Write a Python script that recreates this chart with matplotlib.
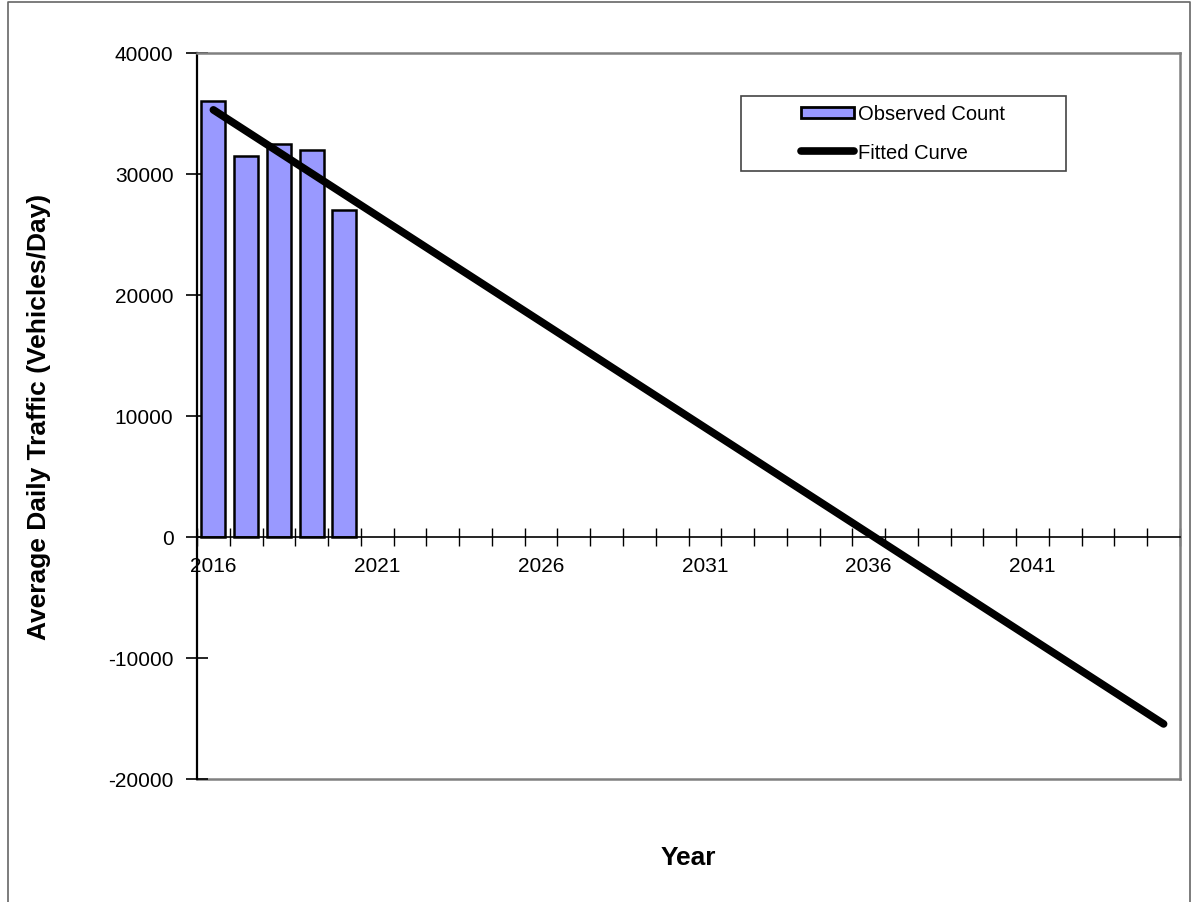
import numpy as np
import matplotlib.pyplot as plt
from matplotlib.patches import Rectangle
from matplotlib.lines import Line2D

plt.rcParams['font.family'] = ['Liberation Sans', 'DejaVu Sans']

# data
years = list(range(2016, 2046))
obs_years = [2016, 2017, 2018, 2019, 2020]
observed = [36000, 31500, 32500, 32000, 27000]
fitted = [35300, 33550, 31800, 30050, 28300, 26550, 24800, 23050, 21300, 19550,
          17800, 16050, 14300, 12550, 10800, 9050, 7300, 5550, 3800, 2050,
          300, -1450, -3200, -4950, -6700, -8450, -10200, -11950, -13700, -15450]
label_years = [2016, 2021, 2026, 2031, 2036, 2041]
y_ticks = [-20000, -10000, 0, 10000, 20000, 30000, 40000]

W, H = 1199, 903
fig = plt.figure(figsize=(W / 100, H / 100), dpi=100)

# plot area in pixels: x 197..1180, y 54..780
ax = fig.add_axes([197 / W, 1 - 780 / H, (1180 - 197) / W, (780 - 54) / H])

xpos = np.arange(len(years))
obs_pos = [years.index(y) for y in obs_years]

ax.bar(obs_pos, observed, width=0.73, color='#9999FF', edgecolor='black',
       linewidth=1.8, zorder=2, label='Observed Count')
ax.plot(xpos, fitted, color='black', linewidth=5.5, solid_capstyle='round',
        zorder=3, label='Fitted Curve')

ax.set_xlim(-0.5, len(years) - 0.5)
ax.set_ylim(-20000, 40000)

# spines
ax.spines['bottom'].set_position(('data', 0))
ax.spines['bottom'].set_linewidth(1.2)
ax.spines['left'].set_linewidth(1.6)
for s in ['top', 'right']:
    ax.spines[s].set_color('#808080')
    ax.spines[s].set_linewidth(1.8)
ax.axhline(-20000, color='#808080', linewidth=1.8, clip_on=False, zorder=1)

# y axis ticks
ax.set_yticks(y_ticks)
ax.set_yticklabels([str(v) for v in y_ticks])
ax.tick_params(axis='y', direction='inout', length=16, width=1.2,
               labelsize=15, pad=9)

# x axis: ticks on category boundaries, labels at category centres
ax.set_xticks(np.arange(len(years) + 1) - 0.5)
ax.set_xticklabels([])
ax.tick_params(axis='x', which='major', direction='inout', length=13, width=1.0)
ax.set_xticks([years.index(y) for y in label_years], minor=True)
ax.set_xticklabels([str(y) for y in label_years], minor=True)
ax.tick_params(axis='x', which='minor', length=0, labelsize=15, pad=14)

ax.set_ylabel('Average Daily Traffic (Vehicles/Day)', fontsize=19, fontweight='bold')
ax.yaxis.set_label_coords(-0.161, 0.5)
ax.set_xlabel('Year', fontsize=19, fontweight='bold')
ax.xaxis.set_label_coords(0.5, -0.107)
ax.xaxis.label.set_va('center')
ax.yaxis.label.set_va('center')

# legend
handles = [Rectangle((0, 0), 1, 1, facecolor='#9999FF', edgecolor='black', linewidth=2),
           Line2D([0], [0], color='black', linewidth=5.5, solid_capstyle='round')]
leg = fig.legend(handles, ['Observed Count', 'Fitted Curve'], loc='center',
                 bbox_to_anchor=(903 / W, 1 - 134 / H), frameon=False,
                 fontsize=14.5, handlelength=2.6, handleheight=0.5,
                 handletextpad=0.2, labelspacing=0.95)
fig.patches.append(Rectangle((741 / W, 1 - 172 / H), (1066 - 741) / W, 75 / H,
                             transform=fig.transFigure, fill=False,
                             edgecolor='#444444', linewidth=1.2))

# outer chart border
fig.add_artist(Line2D([8 / W, 8 / W, 1190 / W, 1190 / W],
                      [0, 1 - 3 / H, 1 - 3 / H, 0],
                      transform=fig.transFigure, color='#666666', linewidth=1.2))

fig.savefig('out.png', dpi=100)
